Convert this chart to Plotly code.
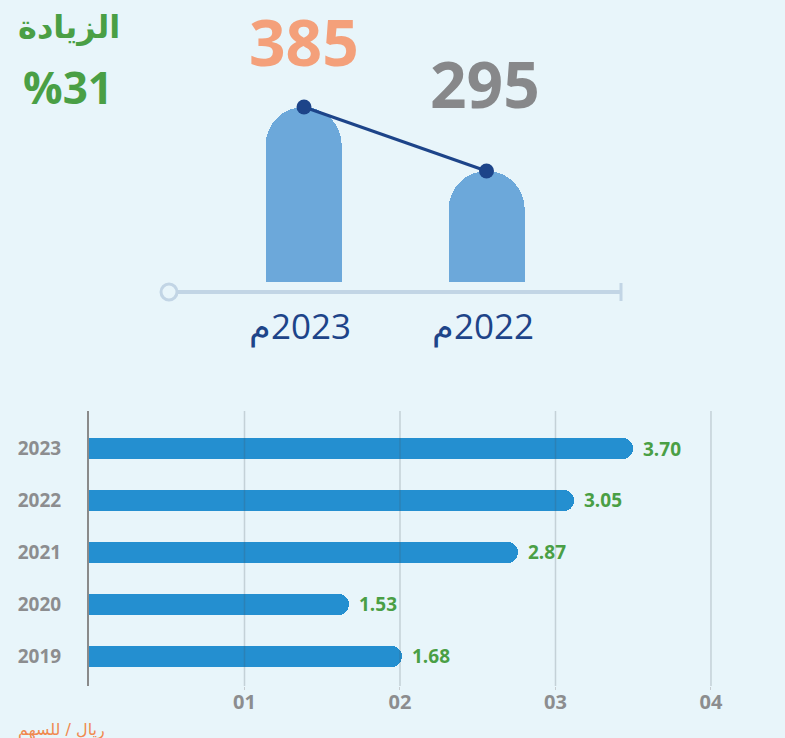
import plotly.graph_objects as go

W, H = 785, 738
BG = "#e8f5fa"

# ---- top comparison data ----
top_years = ["2023", "2022"]
top_year_labels = ["م\u200e2023", "م\u200e2022"]
top_values = [385, 295]
top_value_colors = ["#f4a07a", "#87888a"]
increase_title = "الزيادة"
increase_text = "%31"

# ---- bottom EPS data ----
eps_years = ["2019", "2020", "2021", "2022", "2023"]
eps_bar_lengths = [2.01, 1.67, 2.76, 3.12, 3.50]
eps_labels = ["1.68", "1.53", "2.87", "3.05", "3.70"]
x_tickvals = [1, 2, 3, 4]
x_ticktext = ["01", "02", "03", "04"]
unit_label = "ريال / للسهم"


def px_x(p):
    return p / W


def px_y(p):
    return 1 - p / H


fig = go.Figure()

# top bars
fig.add_trace(go.Bar(
    x=top_years, y=top_values, xaxis="x", yaxis="y",
    marker=dict(color="#6ca8da", cornerradius="50%", line=dict(width=0)),
    width=0.416, hoverinfo="skip", showlegend=False,
))
fig.add_trace(go.Scatter(
    x=top_years, y=top_values, xaxis="x", yaxis="y",
    mode="lines+markers",
    line=dict(color="#1d4489", width=3),
    marker=dict(color="#1d4489", size=15),
    hoverinfo="skip", showlegend=False,
))

# bottom bars
fig.add_trace(go.Bar(
    y=eps_years, x=eps_bar_lengths, orientation="h", xaxis="x2", yaxis="y2",
    marker=dict(color="#248fd0", cornerradius="50%", line=dict(width=0)),
    width=0.405, hoverinfo="skip", showlegend=False,
))

annotations = []
value_y = [px_y(42), px_y(83)]
value_xshift = [0, -2]
for i, (v, c, yy, xs) in enumerate(zip(top_values, top_value_colors, value_y, value_xshift)):
    annotations.append(dict(
        x=i, xref="x", y=yy, yref="paper", text=str(v), showarrow=False,
        xanchor="center", yanchor="middle", xshift=xs,
        font=dict(family="Open Sans", size=64, color=c, weight="bold"),
    ))
for i, lab in enumerate(top_year_labels):
    annotations.append(dict(
        x=i, xref="x", y=px_y(325), yref="paper", text=lab, showarrow=False,
        xanchor="center", yanchor="middle", xshift=-4,
        font=dict(family="Open Sans", size=35, color="#1d4489", weight=500),
    ))
annotations.append(dict(
    x=px_x(69), y=px_y(27), xref="paper", yref="paper", text=increase_title,
    showarrow=False, xanchor="center", yanchor="middle",
    font=dict(family="DejaVu Sans", size=32, color="#4a9f45", weight="bold"),
))
annotations.append(dict(
    x=px_x(68), y=px_y(87), xref="paper", yref="paper", text=increase_text,
    showarrow=False, xanchor="center", yanchor="middle",
    font=dict(family="Open Sans", size=44, color="#4a9f45", weight="bold"),
))
for i, (ln, lab) in enumerate(zip(eps_bar_lengths, eps_labels)):
    annotations.append(dict(
        x=ln, y=i, xref="x2", yref="y2", text=lab, showarrow=False,
        xanchor="left", yanchor="middle", xshift=8,
        font=dict(family="Open Sans", size=19, color="#4a9f45", weight="bold"),
    ))
annotations.append(dict(
    x=px_x(16), y=px_y(730), xref="paper", yref="paper", text=unit_label,
    showarrow=False, xanchor="left", yanchor="middle",
    font=dict(family="DejaVu Sans", size=16, color="#f0894f"),
))

shapes = []
# top baseline
shapes.append(dict(type="line", xref="paper", yref="paper",
                   x0=px_x(169), x1=px_x(621), y0=px_y(292), y1=px_y(292),
                   line=dict(color="#c2d5e5", width=4), layer="below"))
shapes.append(dict(type="circle", xref="paper", yref="paper",
                   x0=px_x(161), x1=px_x(177), y0=px_y(284), y1=px_y(300),
                   line=dict(color="#c2d5e5", width=3), fillcolor=BG, layer="above"))
shapes.append(dict(type="line", xref="paper", yref="paper",
                   x0=px_x(621), x1=px_x(621), y0=px_y(283), y1=px_y(301),
                   line=dict(color="#c2d5e5", width=3)))
# gridlines drawn above bars (semi-transparent)
for v in x_tickvals:
    shapes.append(dict(type="line", xref="x2", yref="y2 domain",
                       x0=v, x1=v, y0=0, y1=1,
                       line=dict(color="rgba(70,80,90,0.22)", width=1.5), layer="above"))

fig.update_layout(
    width=W, height=H,
    margin=dict(l=0, r=0, t=0, b=0),
    paper_bgcolor=BG, plot_bgcolor="rgba(0,0,0,0)",
    bargap=0,
    xaxis=dict(domain=[px_x(212.75), px_x(577.75)], anchor="y",
               type="category", range=[-0.5, 1.5],
               showgrid=False, showline=False, showticklabels=False, zeroline=False),
    yaxis=dict(domain=[px_y(282), 1], anchor="x", range=[139, 535.4],
               showgrid=False, showline=False, showticklabels=False, zeroline=False),
    xaxis2=dict(domain=[px_x(89), 1], anchor="y2", range=[0, 4.476],
                showgrid=False, zeroline=False, showline=False,
                tickvals=x_tickvals, ticktext=x_ticktext,
                ticks="outside", ticklen=3, tickcolor="#c6cdd1", tickwidth=1,
                ticklabelstandoff=-5,
                tickfont=dict(family="Open Sans", size=20,
                              color="#8c8d8f", weight="bold")),
    yaxis2=dict(domain=[px_y(686), px_y(411)], anchor="x2", type="category",
                categoryorder="array", categoryarray=eps_years,
                range=[-0.578, 4.723],
                showgrid=False, zeroline=False,
                showline=True, linecolor="#8a8a8a", linewidth=2,
                ticks="", ticklabelstandoff=22,
                tickfont=dict(family="Open Sans", size=19, color="#8c8d8f", weight="bold")),
    annotations=annotations,
    shapes=shapes,
)

fig.write_html(
    "out.html",
    config={"displayModeBar": False},
    post_script="document.body.style.margin='0';document.body.style.padding='0';",
)
